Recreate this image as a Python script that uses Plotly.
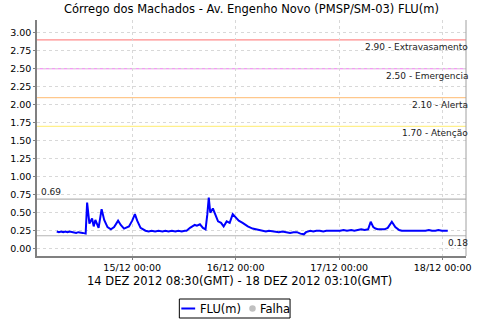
import datetime as dt
import plotly.graph_objects as go

# ---- data ----
hours_from_14dec = [
    6.5, 7.0, 7.5, 8.0, 8.5, 9.0, 9.5, 10.0, 10.5, 11.0, 11.5, 12.0, 12.5, 13.2,
    13.54, 14.07, 14.69, 15.06, 15.45, 16.2, 16.9, 17.5, 18.27, 19.05, 19.8, 20.72,
    21.34, 22.1, 23.24, 24.0, 24.62, 25.15, 25.93, 27.07, 27.8, 28.5, 29.3, 30.1,
    31.0, 31.7, 32.4, 33.2, 34.0, 34.7, 35.5, 36.2, 36.6, 37.4, 38.5, 39.0, 39.7,
    40.4, 41.0, 41.4, 41.75, 42.1, 42.7, 43.3, 43.9, 44.6, 45.2, 45.9, 46.6, 47.3,
    47.9, 48.7, 49.6, 50.8, 51.9, 52.6, 53.4, 54.2, 55.0, 55.7, 56.5, 57.3, 58.0,
    58.8, 59.6, 60.6, 61.4, 62.2, 63.0, 63.8, 64.3, 65.3, 66.0, 66.7, 67.5, 68.3,
    69.0, 69.8, 70.6, 71.4, 72.2, 73.0, 73.8, 74.8, 75.5, 76.3, 77.1, 77.9, 78.7,
    79.3, 79.9, 80.4, 80.96, 81.7, 82.5, 83.25, 84.2, 85.0, 85.9, 86.5, 87.1, 87.8,
    88.5, 89.2, 89.7, 90.5, 91.2, 92.0, 92.8, 93.5, 94.3, 95.0, 95.8, 96.5, 97.17,
]
flu_values = [
    0.24, 0.23, 0.24, 0.23, 0.24, 0.23, 0.24, 0.23, 0.23, 0.22, 0.23, 0.22, 0.22, 0.21,
    0.64, 0.35, 0.42, 0.31, 0.40, 0.29, 0.55, 0.40, 0.30, 0.27, 0.30, 0.39,
    0.33, 0.28, 0.31, 0.39, 0.48, 0.39, 0.29, 0.25, 0.24, 0.25, 0.24, 0.25,
    0.24, 0.25, 0.24, 0.25, 0.24, 0.25, 0.24, 0.25, 0.25, 0.29, 0.33, 0.32, 0.34,
    0.29, 0.27, 0.47, 0.71, 0.50, 0.56, 0.47, 0.38, 0.36, 0.31, 0.38, 0.36, 0.48,
    0.44, 0.39, 0.36, 0.31, 0.28, 0.27, 0.26, 0.25, 0.24, 0.25, 0.24, 0.24, 0.23,
    0.24, 0.23, 0.22, 0.23, 0.23, 0.21, 0.20, 0.23, 0.25, 0.24, 0.25, 0.25, 0.24,
    0.25, 0.25, 0.24, 0.25, 0.25, 0.26, 0.25, 0.26, 0.25, 0.26, 0.27, 0.26, 0.27,
    0.375, 0.30, 0.28, 0.27, 0.27, 0.27, 0.29, 0.375, 0.30, 0.26, 0.25, 0.25, 0.24,
    0.25, 0.24, 0.24, 0.25, 0.24, 0.25, 0.26, 0.25, 0.25, 0.26, 0.25, 0.25, 0.25,
]
threshold_values = [2.90, 2.50, 2.10, 1.70]
threshold_labels = ["2.90 - Extravasamento", "2.50 - Emergencia", "2.10 - Alerta", "1.70 - Atenção"]
threshold_colors = ["#ff8c8c", "#f07af0", "#ffc88c", "#fff08c"]
max_value = 0.69
min_value = 0.18
x_tick_dates = ["2012-12-15", "2012-12-16", "2012-12-17", "2012-12-18"]
x_tick_labels = ["15/12 00:00", "16/12 00:00", "17/12 00:00", "18/12 00:00"]
y_tick_values = [i * 0.25 for i in range(13)]

title_text = "Córrego dos Machados - Av. Engenho Novo (PMSP/SM-03) FLU(m)"
x_title = "14 DEZ 2012 08:30(GMT) - 18 DEZ 2012 03:10(GMT)"

base = dt.datetime(2012, 12, 14)
times = [base + dt.timedelta(hours=h) for h in hours_from_14dec]

FONT = "DejaVu Sans"
W, H = 480, 320
L, R, T, B = 37, 9, 20, 64
PW, PH = W - L - R, H - T - B


def px(xp):
    return (xp - L) / PW


def py(yp):
    return (H - B - yp) / PH


fig = go.Figure()
fig.add_trace(go.Scatter(
    x=times, y=flu_values, mode="lines", name="FLU(m)",
    line=dict(color="#0000ff", width=2), showlegend=False,
))

shapes = []
annotations = []

for v, lab, c in zip(threshold_values, threshold_labels, threshold_colors):
    shapes.append(dict(type="line", xref="paper", x0=0, x1=1, yref="y", y0=v, y1=v,
                       line=dict(color=c, width=1.2), layer="below"))
    annotations.append(dict(xref="paper", x=px(469), xshift=6, yref="y", y=v, yshift=-7,
                            text=lab, showarrow=False, xanchor="right", yanchor="middle",
                            font=dict(family=FONT, size=9, color="#222")))

for v in (max_value, min_value):
    shapes.append(dict(type="line", xref="paper", x0=0, x1=1, yref="y", y0=v, y1=v,
                       line=dict(color="#b4b4b4", width=1.2), layer="below"))
annotations.append(dict(xref="paper", x=px(41), xshift=-2, yref="y", y=max_value, yshift=7,
                        text=f"{max_value:.2f}", showarrow=False, xanchor="left",
                        yanchor="middle", font=dict(family=FONT, size=9, color="#222")))
annotations.append(dict(xref="paper", x=px(468), xshift=7, yref="y", y=min_value, yshift=-7,
                        text=f"{min_value:.2f}", showarrow=False, xanchor="right",
                        yanchor="middle", font=dict(family=FONT, size=9, color="#222")))

# right border
shapes.append(dict(type="line", xref="paper", x0=1, x1=1, yref="paper", y0=0, y1=1,
                   line=dict(color="#a0a0a0", width=1)))

# x axis title
annotations.append(dict(xref="paper", x=px(242), yref="paper", y=py(281),
                        text=x_title, showarrow=False, xanchor="center", yanchor="middle",
                        font=dict(family=FONT, size=11.5, color="#000")))

# manual legend
shapes.append(dict(type="rect", xref="paper", yref="paper", x0=px(181), x1=px(293),
                   y0=py(299), y1=py(318), line=dict(color="#000", width=1),
                   fillcolor="white"))
shapes.append(dict(type="line", xref="paper", yref="paper", x0=px(183), x1=px(197),
                   y0=py(308.5), y1=py(308.5), line=dict(color="#0000ff", width=2)))
shapes.append(dict(type="circle", xref="paper", yref="paper", x0=px(251.7), x1=px(258.3),
                   y0=py(305.2), y1=py(311.8), line=dict(color="#c0c0c0", width=0),
                   fillcolor="#c0c0c0"))
annotations.append(dict(xref="paper", x=px(200), yref="paper", y=py(309),
                        text="FLU(m)", showarrow=False, xanchor="left", yanchor="middle",
                        font=dict(family=FONT, size=11.5, color="#000")))
annotations.append(dict(xref="paper", x=px(261), yref="paper", y=py(309),
                        text="Falha", showarrow=False, xanchor="left", yanchor="middle",
                        font=dict(family=FONT, size=11.5, color="#000")))

fig.update_layout(
    width=W, height=H,
    margin=dict(l=L, r=R, t=T, b=B, pad=0),
    paper_bgcolor="white", plot_bgcolor="white",
    title=dict(text=title_text, x=0.5, xref="paper", xanchor="center",
               y=1 - 9 / H, yref="container", yanchor="middle",
               font=dict(family=FONT, size=11.5, color="#000")),
    font=dict(family=FONT, size=9.5, color="#000"),
    shapes=shapes, annotations=annotations,
    xaxis=dict(
        type="date",
        range=["2012-12-14 01:55", "2012-12-18 05:24"],
        tickvals=x_tick_dates, ticktext=x_tick_labels,
        showgrid=True, gridcolor="#d8d8d8", griddash="3px,3px", gridwidth=1,
        showline=True, linecolor="#808080", linewidth=1.5,
        ticks="outside", ticklen=2, tickcolor="#808080",
        tickfont=dict(family=FONT, size=9.5, color="#000"),
        zeroline=False,
    ),
    yaxis=dict(
        range=[-0.101, 3.177],
        tickvals=y_tick_values, tickformat=".2f",
        showgrid=True, gridcolor="#d8d8d8", griddash="3px,3px", gridwidth=1,
        showline=True, linecolor="#808080", linewidth=1.5,
        ticks="outside", ticklen=2, tickcolor="#808080",
        tickfont=dict(family=FONT, size=9.5, color="#000"),
        zeroline=False,
    ),
    showlegend=False,
)

fig.write_html("out.html")
